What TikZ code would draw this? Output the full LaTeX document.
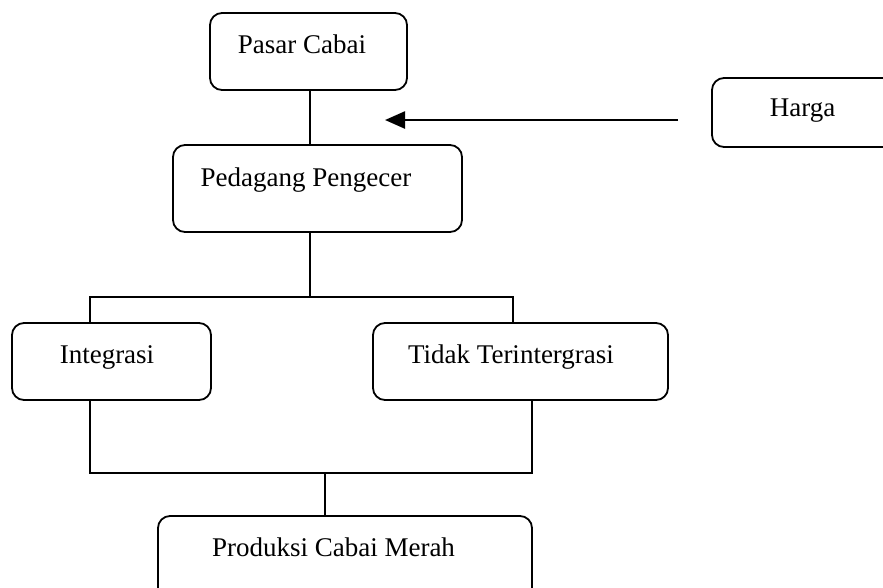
\documentclass[tikz,border=0pt]{standalone}
\usepackage{fontspec}
\setmainfont{Liberation Serif}
\usetikzlibrary{arrows.meta}
\begin{document}
\begin{tikzpicture}[x=1pt,y=-1pt,
  box/.style={draw=black, line width=1.8pt, rounded corners=12pt, inner sep=0pt, fill=none},
  txt/.style={font=\fontsize{27}{32}\selectfont, inner sep=0pt, anchor=base},
  conn/.style={draw=black, line width=1.8pt},
  arr/.style={draw=black, line width=2.4pt, -{Triangle[length=20pt,width=17pt]}}]
\clip (0,0) rectangle (883,587);
\fill[white] (0,0) rectangle (883,587);
% boxes
\node[box, minimum width=197pt, minimum height=77pt] (pc) at (308.5,51.5) {};
\node[box, minimum width=289pt, minimum height=87pt] (pp) at (317.5,188.5) {};
\node[box, minimum width=200pt, minimum height=69pt] (hg) at (812,112.5) {};
\node[box, minimum width=199pt, minimum height=77pt] (ig) at (111.5,361.5) {};
\node[box, minimum width=295pt, minimum height=77pt] (tt) at (520.5,361.5) {};
\node[box, minimum width=374pt, minimum height=90pt] (pd) at (345,561) {};
% texts
\node[txt] (pc-t) at (302,53) {Pasar Cabai};
\node[txt] (pp-t) at (306,186) {Pedagang Pengecer};
\node[txt] (hg-t) at (802.5,116) {Harga};
\node[txt] (ig-t) at (107,363) {Integrasi};
\node[txt] (tt-t) at (511,363) {Tidak Terintergrasi};
\node[txt] (pd-t) at (333.5,556) {Produksi Cabai Merah};
% connectors
\draw[conn] ([xshift=1.5pt]pc.south) -- ([xshift=1.5pt]pc.south |- pp.north);
\coordinate (busA) at (310,297);
\coordinate (busL) at (90,297);
\coordinate (busR) at (513,297);
\draw[conn] (pp.south -| busA) -- (busA);
\draw[conn] (ig.north -| busL) -- (busL) -- (busR) -- (tt.north -| busR);
\coordinate (lowL) at (90,473);
\coordinate (lowR) at (532,473);
\coordinate (lowM) at (325,473);
\draw[conn] (ig.south -| lowL) -- (lowL) -- (lowR) -- (tt.south -| lowR);
\draw[conn] (lowM) -- (pd.north -| lowM);
% arrow
\coordinate (aS) at (678,120);
\coordinate (aE) at (385,120);
\draw[arr] (aS) -- (aE);
\end{tikzpicture}
\end{document}
